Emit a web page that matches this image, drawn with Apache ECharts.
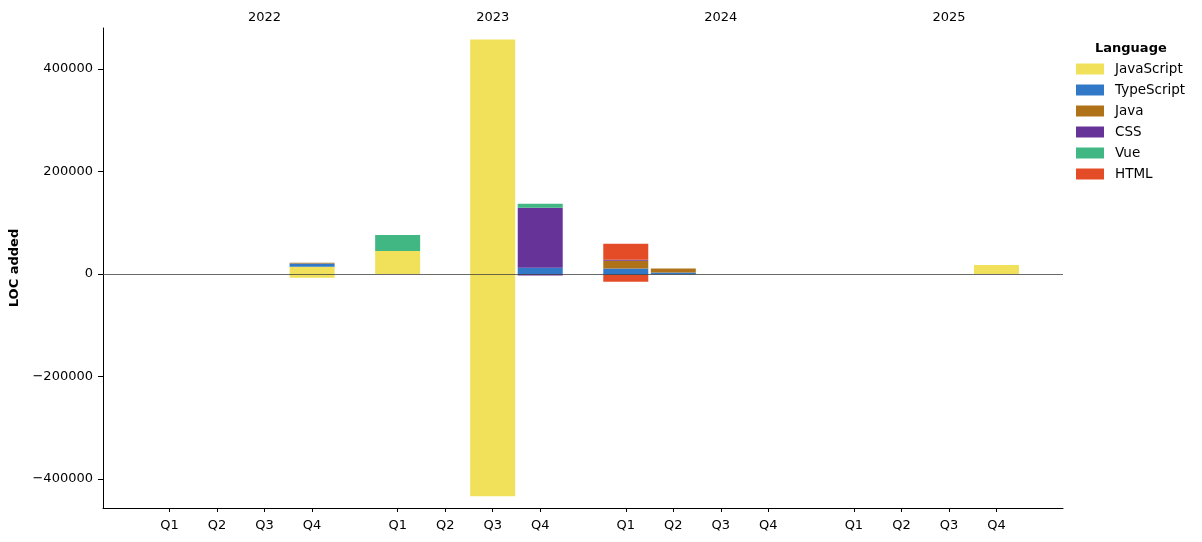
<!DOCTYPE html>
<html>
<head>
<meta charset="utf-8">
<script src="https://cdn.jsdelivr.net/npm/echarts@6/dist/echarts.min.js"></script>
<style>
html,body{margin:0;padding:0;background:#fff;}
#chart{width:1202px;height:542px;}
</style>
</head>
<body>
<div id="chart"></div>
<script>
// ---- data ----
const years = ['2022', '2023', '2024', '2025'];
const quarters = ['Q1', 'Q2', 'Q3', 'Q4'];
const languages = ['JavaScript', 'TypeScript', 'Java', 'CSS', 'Vue', 'HTML'];
const langColors = ['#f1e05a', '#3178c6', '#b07219', '#663399', '#41b883', '#e34c26'];
// lines added per quarter (2022 Q1 ... 2025 Q4)
const jsAdded   = [0, 0, 0, 14300,  45000, 0, 457700, 0,       0, 0, 0, 0,  0, 0, 0, 17500];
const tsAdded   = [0, 0, 0, 6400,   0, 0, 0, 12300,            10800, 3100, 0, 0,  0, 0, 0, 0];
const javaAdded = [0, 0, 0, 1300,   0, 0, 0, 0,                15000, 7800, 0, 0,  0, 0, 0, 0];
const cssAdded  = [0, 0, 0, 0,      0, 0, 0, 117000,           2000, 0, 0, 0,  0, 0, 0, 0];
const vueAdded  = [0, 0, 0, 0,      31200, 0, 0, 7800,         0, 0, 0, 0,  0, 0, 0, 0];
const htmlAdded = [0, 0, 0, 0,      0, 0, 0, 0,                31200, 0, 0, 0,  0, 0, 0, 0];
// lines removed per quarter
const jsRemoved   = [0, 0, 0, -7200,  0, 0, -433900, 0,        0, 0, 0, 0,  0, 0, 0, 0];
const tsRemoved   = [0, 0, 0, 0,      0, 0, 0, 0,              -2000, -800, 0, 0,  0, 0, 0, 0];
const javaRemoved = [0, 0, 0, 0,      0, 0, 0, 0,              0, 0, 0, 0,  0, 0, 0, 0];
const cssRemoved  = [0, 0, 0, 0,      0, 0, 0, -2800,          0, 0, 0, 0,  0, 0, 0, 0];
const vueRemoved  = [0, 0, 0, 0,      0, 0, 0, 0,              0, 0, 0, 0,  0, 0, 0, 0];
const htmlRemoved = [0, 0, 0, 0,      0, 0, 0, 0,              -13000, 0, 0, 0,  0, 0, 0, 0];
const yTicks = [-400000, -200000, 0, 200000, 400000];

// ---- layout helpers ----
// The x axis is a fine category grid (slots of 0.2 quarter) so year groups can have a gap.
const SLOTS_PER_QUARTER = 5;
const SLOTS_PER_YEAR = 24;   // 4.8 quarters per year group
const FIRST_SLOT = 7;        // margin before 2022 Q1
const N_SLOTS = 102;
const slotNames = Array.from({ length: N_SLOTS }, (_, k) => 's' + k);
const slotLabel = {};        // slot index -> quarter label
const yearLabel = {};        // slot index -> year label
const periodSlots = [];
years.forEach((y, yi) => {
  quarters.forEach((q, qi) => {
    const s = FIRST_SLOT + yi * SLOTS_PER_YEAR + qi * SLOTS_PER_QUARTER;
    periodSlots.push(s);
    slotLabel[s] = q;
  });
  yearLabel[FIRST_SLOT + yi * SLOTS_PER_YEAR + 2 * SLOTS_PER_QUARTER] = y;
});

function toSlots(values) {
  const arr = new Array(N_SLOTS).fill('-');
  values.forEach((v, k) => { if (v !== 0) arr[periodSlots[k]] = v; });
  return arr;
}

const added = [jsAdded, tsAdded, javaAdded, cssAdded, vueAdded, htmlAdded];
const removed = [jsRemoved, tsRemoved, javaRemoved, cssRemoved, vueRemoved, htmlRemoved];

const font = 'DejaVu Sans';
const series = [];
languages.forEach((lang, i) => {
  series.push({
    name: lang, type: 'bar', stack: 'loc', barWidth: 45,
    itemStyle: { color: langColors[i] },
    data: toSlots(added[i])
  });
});
languages.forEach((lang, i) => {
  series.push({
    name: lang, type: 'bar', stack: 'loc', barWidth: 45,
    itemStyle: { color: langColors[i] },
    data: toSlots(removed[i])
  });
});
series[series.length - 1].markLine = {
  silent: true, symbol: 'none', z: 10,
  label: { show: false },
  lineStyle: { color: '#444', width: 0.8, type: 'solid' },
  data: [{ yAxis: 0 }]
};

const chart = echarts.init(document.getElementById('chart'), null, { renderer: 'canvas' });
chart.setOption({
  animation: false,
  backgroundColor: '#fff',
  textStyle: { fontFamily: font },
  title: {
    text: 'Language', left: 1090, top: 37,
    textStyle: { fontFamily: font, fontSize: 13, fontWeight: 'bold', color: '#000' }
  },
  legend: {
    orient: 'vertical', left: 1071, top: 57,
    itemWidth: 28, itemHeight: 11, itemGap: 7,
    icon: 'rect',
    data: languages,
    textStyle: { fontFamily: font, fontSize: 13.5, color: '#000', lineHeight: 14, padding: [0, 0, 0, 6] }
  },
  grid: { left: 103, right: 139, top: 28, bottom: 34 },
  xAxis: [{
    type: 'category', data: slotNames, boundaryGap: false, position: 'bottom',
    axisLine: { onZero: false, lineStyle: { color: '#000', width: 1 } },
    axisTick: { show: true, length: 4, interval: (idx) => slotLabel[idx] !== undefined, lineStyle: { color: '#000' } },
    axisLabel: { interval: (idx) => slotLabel[idx] !== undefined, margin: 11, color: '#000', fontSize: 13, fontFamily: font,
      formatter: (v, idx) => slotLabel[idx] || '' },
    splitLine: { show: false }
  }, {
    type: 'category', data: slotNames, boundaryGap: false, position: 'top',
    axisLine: { show: false },
    axisTick: { show: false },
    axisLabel: { interval: (idx) => yearLabel[idx] !== undefined, margin: 4, color: '#000', fontSize: 13, fontFamily: font,
      formatter: (v, idx) => yearLabel[idx] || '' },
    splitLine: { show: false }
  }],
  yAxis: {
    type: 'value', min: -456600, max: 480000,
    name: 'LOC added', nameLocation: 'middle', nameGap: 76,
    nameTextStyle: { fontFamily: font, fontSize: 13, fontWeight: 'bold', color: '#000' },
    axisLine: { show: true, onZero: false, lineStyle: { color: '#000', width: 1 } },
    axisTick: { show: true, length: 5, customValues: yTicks, lineStyle: { color: '#000' } },
    axisLabel: { customValues: yTicks, margin: 10, color: '#000', fontSize: 13, fontFamily: font,
      formatter: v => v < 0 ? '\u2212' + Math.abs(v) : String(v) },
    splitLine: { show: false }
  },
  series: series
});
</script>
</body>
</html>
